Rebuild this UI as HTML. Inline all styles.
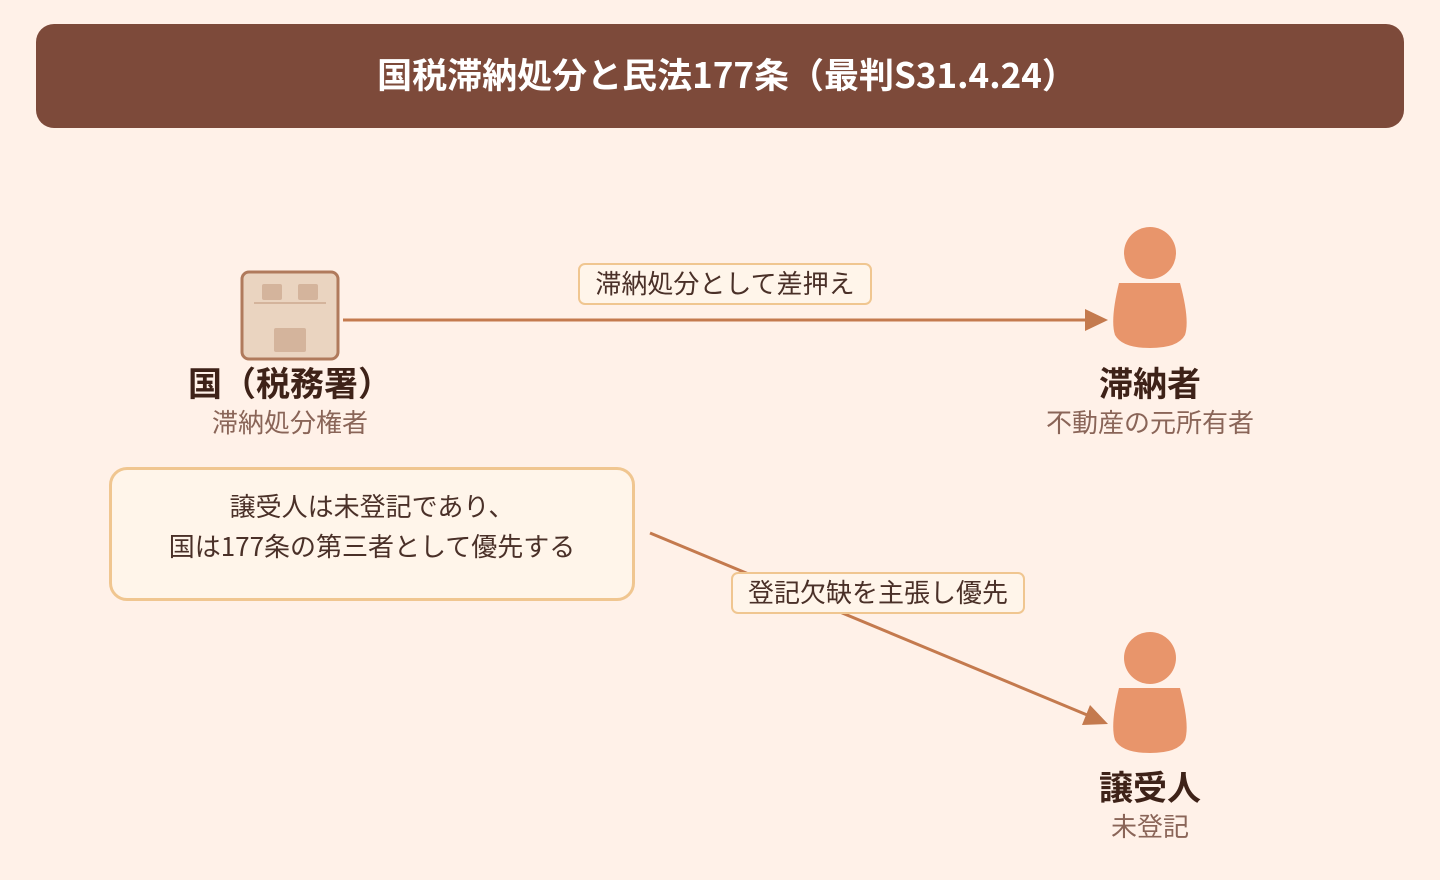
<!DOCTYPE html>
<html><head><meta charset="utf-8"><style>
body{margin:0;width:1440px;height:880px;background:#fff1e8;font-family:"Noto Sans CJK JP",sans-serif;position:relative;overflow:hidden}
.hdr{position:absolute;left:36px;top:24px;width:1368px;height:104px;background:#7d4a3a;border-radius:18px;color:#fff;font-weight:bold;font-size:35px;text-align:center;line-height:100px;box-sizing:border-box;padding-left:14px}
.t{position:absolute;text-align:center;white-space:nowrap;line-height:1.2}
.nm{font-weight:bold;font-size:34px;color:#3e2218}
.sub{font-size:26px;color:#8a6558}
.lbl{position:absolute;background:#fff5ea;border:2px solid #f0c690;border-radius:7px;font-size:26px;color:#4a3028;text-align:center;box-sizing:border-box}
</style></head><body>
<div class="hdr">国税滞納処分と民法177条（最判S31.4.24）</div>
<svg width="1440" height="880" style="position:absolute;left:0;top:0">
<rect x="242" y="272" width="96" height="87" rx="7" fill="#ead4c0" stroke="#b07a5c" stroke-width="3"/>
<rect x="262" y="284" width="20" height="16" rx="2" fill="#d4b49c"/>
<rect x="298" y="284" width="20" height="16" rx="2" fill="#d4b49c"/>
<rect x="254" y="302" width="72" height="2" fill="#d4b49c"/>
<rect x="274" y="328" width="32" height="24" rx="2" fill="#d4b49c"/>
<line x1="343" y1="320" x2="1090" y2="320" stroke="#c47a4e" stroke-width="3"/>
<polygon points="1108,320 1085,309 1085,331" fill="#c47a4e"/>
<line x1="650" y1="533" x2="1092" y2="717" stroke="#c47a4e" stroke-width="3"/>
<polygon points="1108,724 1082,725 1090,705" fill="#c47a4e"/>
<g fill="#e8956b">
<circle cx="1150" cy="253" r="26"/>
<path d="M1119,283 L1180,283 Q1190,320 1185,335 Q1178,348 1150,348 Q1122,348 1115,335 Q1110,320 1119,283Z"/>
<circle cx="1150" cy="658" r="26"/>
<path d="M1119,688 L1180,688 Q1190,725 1185,740 Q1178,753 1150,753 Q1122,753 1115,740 Q1110,725 1119,688Z"/>
</g>
</svg>
<div class="t nm" style="left:140px;width:300px;top:362px">国（税務署）</div>
<div class="t sub" style="left:140px;width:300px;top:406px">滞納処分権者</div>
<div class="t nm" style="left:1000px;width:300px;top:362px">滞納者</div>
<div class="t sub" style="left:1000px;width:300px;top:406px">不動産の元所有者</div>
<div class="t nm" style="left:1000px;width:300px;top:766px">譲受人</div>
<div class="t sub" style="left:1000px;width:300px;top:810px">未登記</div>
<div class="lbl" style="left:578px;top:263px;width:294px;height:42px;line-height:36px">滞納処分として差押え</div>
<div class="lbl" style="left:731px;top:572px;width:294px;height:42px;line-height:36px">登記欠缺を主張し優先</div>
<div style="position:absolute;left:109px;top:467px;width:526px;height:134px;box-sizing:border-box;border:3px solid #f0c690;border-radius:18px;background:#fff5ea;font-size:26px;color:#4a3028;text-align:center;line-height:40px;padding-top:16px">譲受人は未登記であり、<br>国は177条の第三者として優先する</div>
</body></html>
